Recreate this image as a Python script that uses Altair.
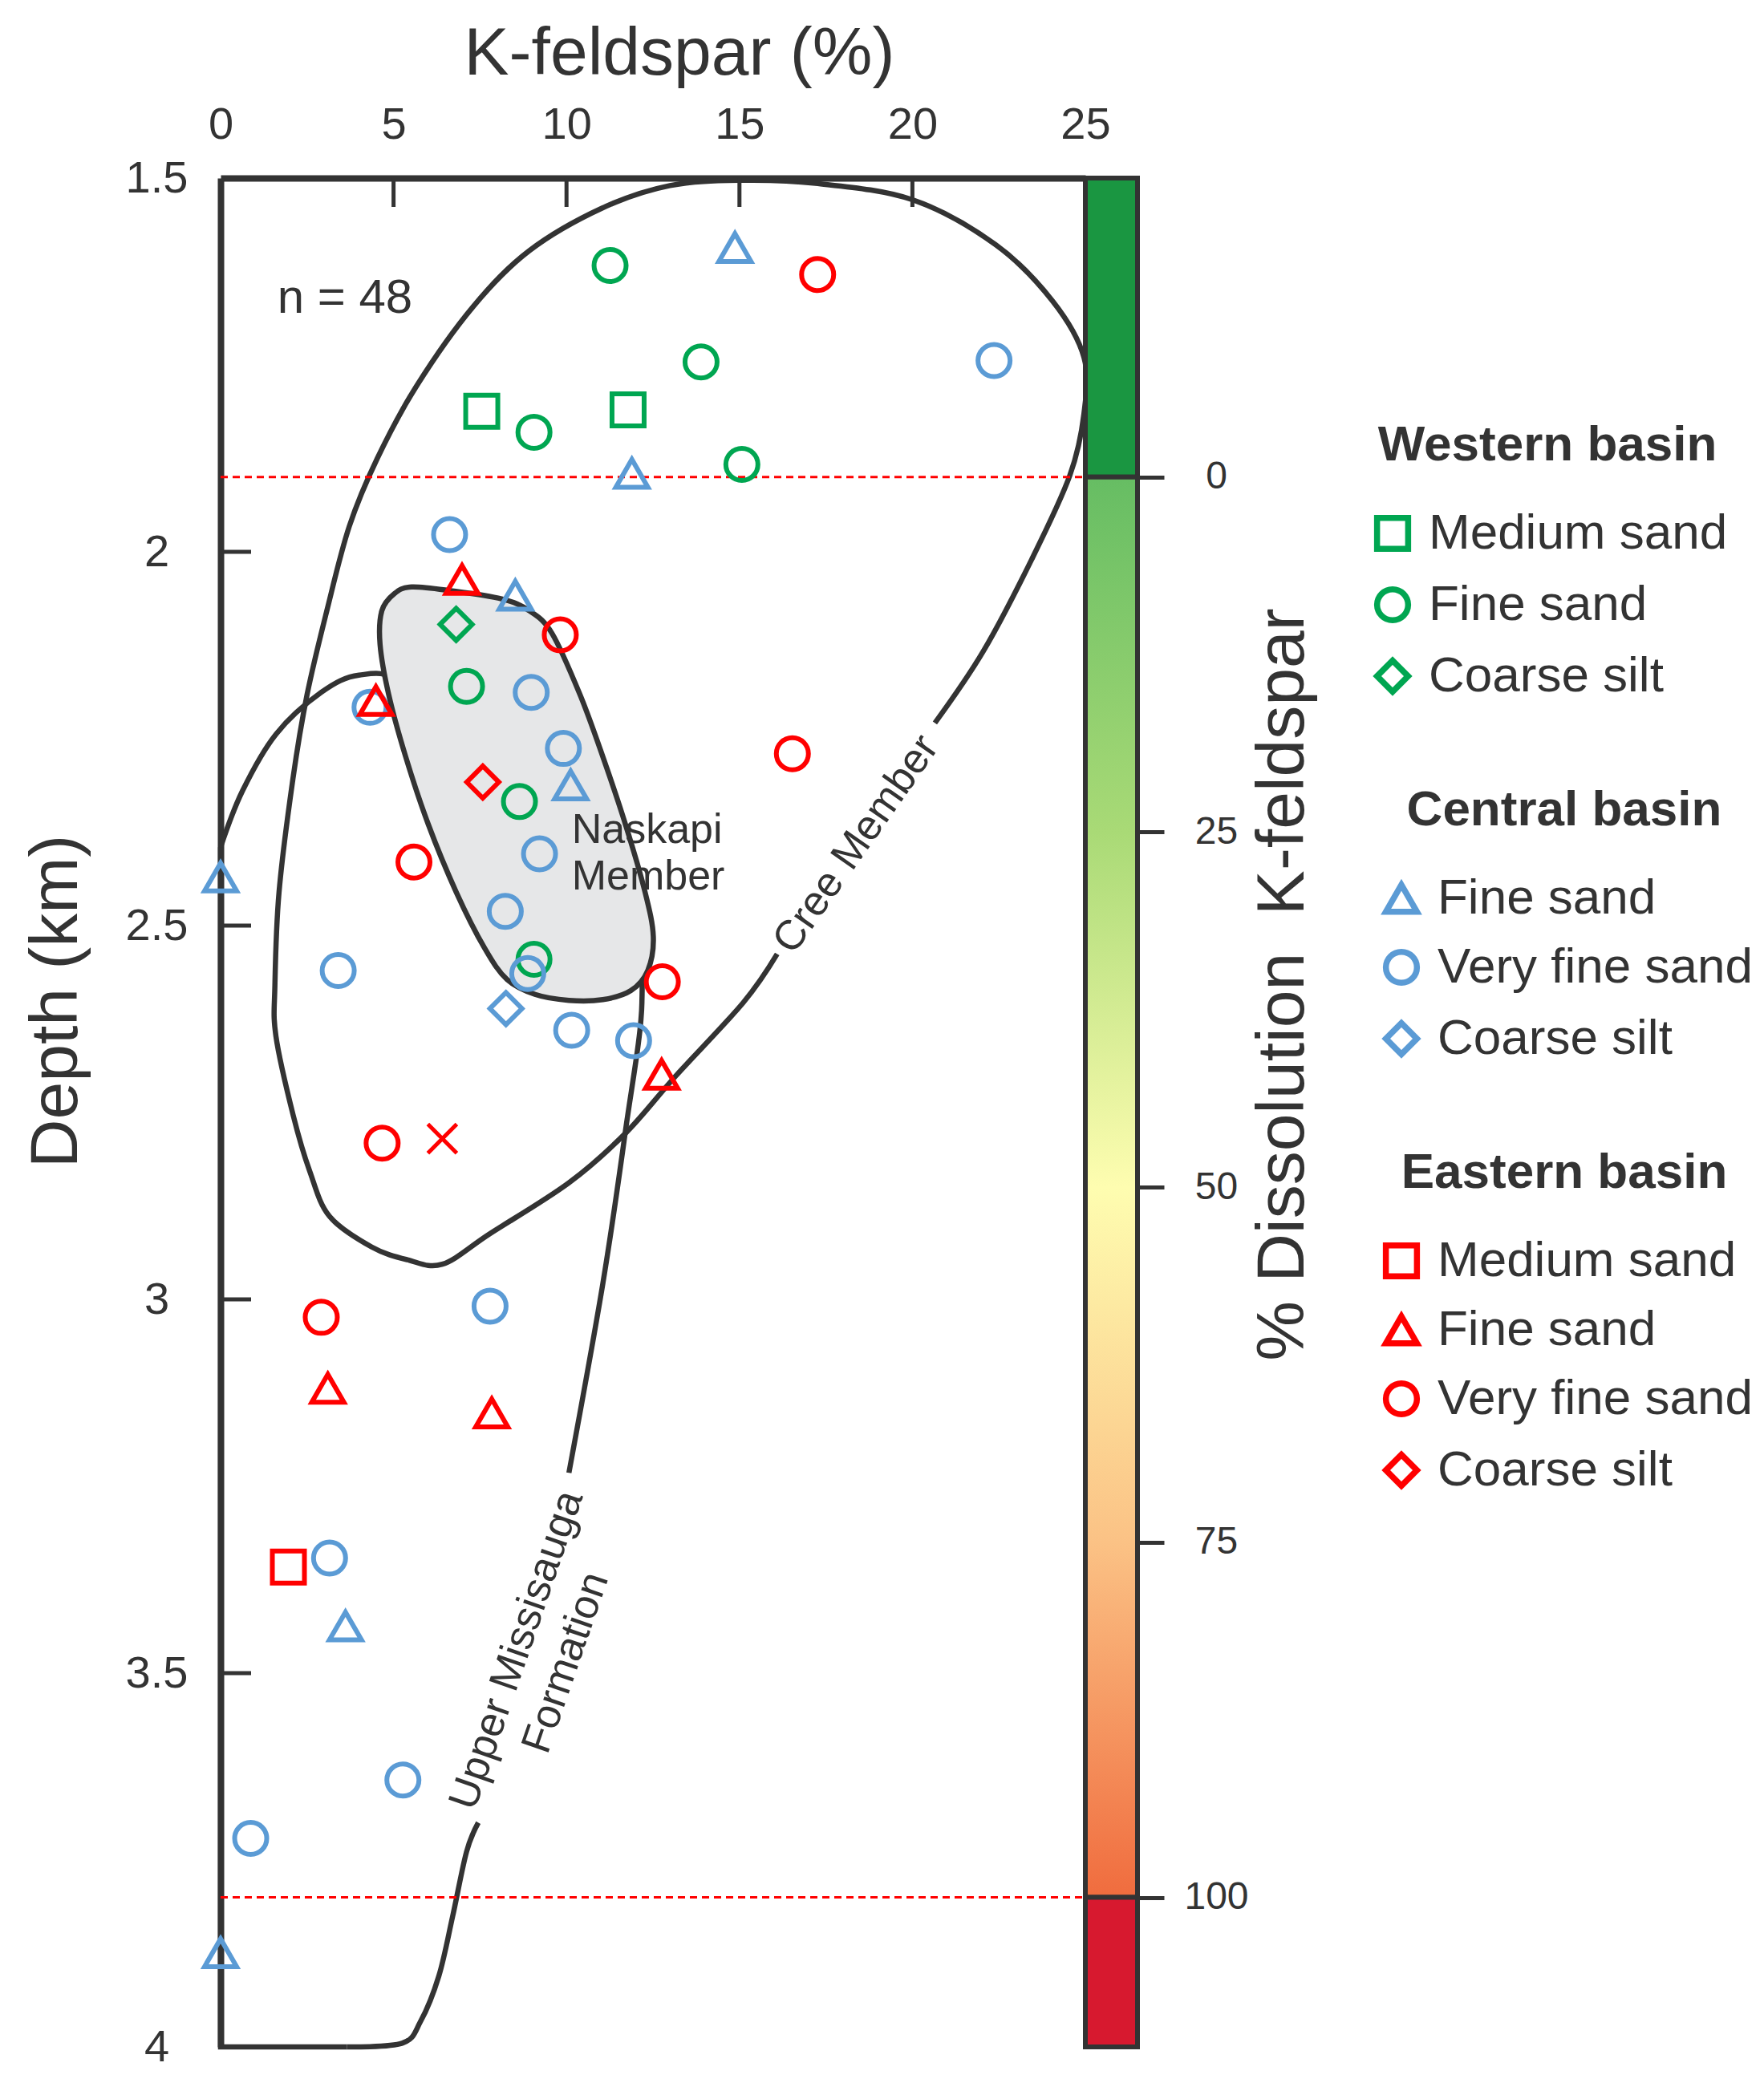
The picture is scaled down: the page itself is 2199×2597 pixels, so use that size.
import altair as alt
import pandas as pd

FONT = "Liberation Sans"
INK = "#333333"
GREEN = "#00a651"
BLUE = "#5b9bd5"
RED = "#ff0000"
GREY_FILL = "#e6e7e8"

W, H, CBW = 1078, 2330, 65

X_DOMAIN = [0, 25]
DEPTH_DOMAIN = [1.5, 4.0]
X_TICKS = [0, 5, 10, 15, 20, 25]
Y_TICKS = [1.5, 2.0, 2.5, 3.0, 3.5, 4.0]
X_INNER_TICKS = [5, 10, 15, 20]
Y_INNER_TICKS = [2.0, 2.5, 3.0, 3.5]

DISS_DEPTHS = [1.9, 3.8]          # depths of 0 % and 100 % dissolution
DISS_TICKS = [0, 25, 50, 75, 100]

# ---------------- samples ----------------
W_TYPES = ["Medium sand", "Fine sand", "Coarse silt"]
W_SHAPES = ["square", "circle", "diamond"]
W_X = [7.55, 11.78, 11.26, 13.89, 9.06, 15.07, 7.11, 8.64, 9.06, 6.81]
W_D = [1.812, 1.810, 1.617, 1.746, 1.840, 1.883, 2.180, 2.334, 2.545, 2.097]
W_T = ["Medium sand", "Medium sand", "Fine sand", "Fine sand", "Fine sand",
       "Fine sand", "Fine sand", "Fine sand", "Fine sand", "Coarse silt"]

C_TYPES = ["Fine sand", "Very fine sand", "Coarse silt"]
C_SHAPES = ["triangle-up", "circle", "diamond"]
C_X = [14.87, 11.89, 8.52, 10.12, 0.0, 3.61, 0.0,
       22.36, 6.62, 8.98, 4.32, 9.91, 9.22, 8.23, 3.40, 8.88, 10.15, 11.94, 7.79, 3.15, 5.27, 0.87,
       8.25]
C_D = [1.593, 1.895, 2.058, 2.312, 2.435, 3.437, 3.874,
       1.744, 1.977, 2.188, 2.208, 2.263, 2.404, 2.481, 2.560, 2.564, 2.640, 2.654, 3.009, 3.346, 3.643, 3.721,
       2.611]
C_T = ["Fine sand"] * 7 + ["Very fine sand"] * 15 + ["Coarse silt"]

E_TYPES = ["Medium sand", "Fine sand", "Very fine sand", "Coarse silt"]
E_SHAPES = ["square", "triangle-up", "circle", "diamond"]
E_X = [1.96,
       6.98, 4.49, 12.75, 3.10, 7.84,
       17.26, 9.82, 16.53, 5.59, 12.77, 4.67, 2.91,
       7.58]
E_D = [3.358,
       2.037, 2.199, 2.699, 3.119, 3.152,
       1.629, 2.111, 2.270, 2.415, 2.575, 2.791, 3.024,
       2.308]
E_T = ["Medium sand"] + ["Fine sand"] * 5 + ["Very fine sand"] * 7 + ["Coarse silt"]
E_CROSS_X = [6.41]
E_CROSS_D = [2.785]

# ---------------- outlines ----------------
CREE_X = [16.09, 15.11, 13.16, 11.70, 10.07, 7.79, 6.41, 5.40, 4.37, 3.15, 2.58, 2.10, 1.60, 1.57,
          1.69, 2.09, 2.50, 3.07, 3.72, 4.53, 5.68, 7.30, 8.93, 11.04, 12.99, 15.03, 17.20, 20.00,
          22.40, 24.06, 24.96, 24.96, 24.55, 23.45, 22.05, 20.65]
CREE_D = [2.538, 2.603, 2.701, 2.778, 2.844, 2.912, 2.953, 2.947, 2.930, 2.889, 2.829, 2.754, 2.648, 2.580,
          2.455, 2.304, 2.191, 2.079, 1.966, 1.875, 1.777, 1.672, 1.597, 1.540, 1.510, 1.503, 1.507, 1.529,
          1.589, 1.665, 1.740, 1.815, 1.898, 2.010, 2.133, 2.229]

MISS_UP_X = [10.07, 11.05, 11.70, 12.18, 11.80, 9.50, 7.00, 5.20, 4.00, 2.91, 1.60, 0.63, 0.0]
MISS_UP_D = [3.232, 2.979, 2.776, 2.603, 2.520, 2.400, 2.270, 2.175, 2.165, 2.188, 2.244, 2.320, 2.395]
MISS_EDGE_X = [0.0, 0.0, 3.65]
MISS_EDGE_D = [2.395, 4.0, 4.0]
MISS_LOW_X = [3.65, 5.25, 5.78, 6.31, 6.71, 7.11, 7.45]
MISS_LOW_D = [4.0, 3.995, 3.966, 3.905, 3.825, 3.739, 3.700]

NASK_X = [5.52, 6.65, 8.12, 8.93, 9.58, 10.39, 11.05, 11.70, 12.27, 12.51, 12.35, 11.86,
          11.05, 10.07, 9.09, 8.28, 7.63, 6.81, 6.00, 5.35, 4.86, 4.61, 4.66, 5.02]
NASK_D = [2.047, 2.052, 2.063, 2.079, 2.109, 2.191, 2.274, 2.364, 2.455, 2.515, 2.560, 2.587,
          2.599, 2.600, 2.592, 2.572, 2.530, 2.455, 2.364, 2.274, 2.191, 2.124, 2.079, 2.056]

# ---------------- annotations ----------------
LEFT_TEXT = ["n = 48", "Naskapi", "Member"]
LEFT_X = [1.64, 10.15, 10.15]
LEFT_D = [1.661, 2.372, 2.435]
LEFT_FS = [60, 52, 52]

ROT_TEXT = ["Cree Member", "Upper Missisauga", "Formation"]
ROT_X = [18.37, 8.56, 9.98]
ROT_D = [2.391, 3.469, 3.486]
ROT_ANGLE = [305, 289, 289]
ROT_FS = [52, 52, 52]

# ---------------- encodings ----------------
X_AXIS = alt.Axis(orient="top", values=X_TICKS, ticks=False, grid=False, domain=True,
                  domainColor=INK, domainWidth=8, labelFont=FONT, labelFontSize=56,
                  labelColor=INK, labelPadding=38, labelFlush=False, labelOverlap=False,
                  format="d", title="K-feldspar (%)", titleFont=FONT, titleFontSize=84,
                  titleFontWeight="normal", titleColor=INK, titleX=(W + CBW) / 2, titleY=-130,
                  titleAlign="center", titleBaseline="alphabetic")
Y_AXIS = alt.Axis(orient="left", values=Y_TICKS, ticks=False, grid=False, domain=True,
                  domainColor=INK, domainWidth=8, labelFont=FONT, labelFontSize=56,
                  labelColor=INK, labelAlign="center", labelBaseline="middle", labelPadding=80,
                  labelFlush=False, labelOverlap=False, format="~g", title="Depth (km)",
                  titleFont=FONT, titleFontSize=84, titleFontWeight="normal", titleColor=INK,
                  titleAngle=270, titleX=-205, titleY=1026, titleAlign="center",
                  titleBaseline="middle")
X_ENC = alt.X("x:Q", scale=alt.Scale(domain=X_DOMAIN, nice=False, zero=False), axis=X_AXIS)
Y_ENC = alt.Y("depth:Q", scale=alt.Scale(domain=DEPTH_DOMAIN, reverse=True, nice=False, zero=False),
              axis=Y_AXIS)


def path_df(name, xs, ds):
    return pd.DataFrame({"path": name, "order": list(range(len(xs))), "x": xs, "depth": ds})


curve_df = pd.concat([path_df("cree", CREE_X, CREE_D),
                      path_df("miss_up", MISS_UP_X, MISS_UP_D),
                      path_df("miss_low", MISS_LOW_X, MISS_LOW_D)])
straight_df = path_df("miss_edge", MISS_EDGE_X, MISS_EDGE_D)
nask_df = path_df("naskapi", NASK_X, NASK_D)

LINE_W = 6.5
curves = alt.Chart(curve_df).mark_line(interpolate="cardinal", color=INK, strokeWidth=LINE_W).encode(
    X_ENC, Y_ENC, detail="path:N", order="order:Q")
straight = alt.Chart(straight_df).mark_line(interpolate="linear", color=INK, strokeWidth=LINE_W).encode(
    X_ENC, Y_ENC, order="order:Q")
naskapi = alt.Chart(nask_df).mark_line(interpolate="cardinal-closed", color=INK, fill=GREY_FILL,
                                       strokeWidth=LINE_W).encode(X_ENC, Y_ENC, order="order:Q")

x_ticks = alt.Chart(pd.DataFrame({"x": X_INNER_TICKS})).mark_rule(color=INK, strokeWidth=5).encode(
    X_ENC, y=alt.value(0), y2=alt.value(36))
y_ticks = alt.Chart(pd.DataFrame({"depth": Y_INNER_TICKS})).mark_rule(color=INK, strokeWidth=5).encode(
    Y_ENC, x=alt.value(0), x2=alt.value(38))
dashed = alt.Chart(pd.DataFrame({"depth": DISS_DEPTHS})).mark_rule(
    color=RED, strokeWidth=3, strokeDash=[9, 6]).encode(Y_ENC, x=alt.value(0), x2=alt.value(W))


def legend_def(title, color, lx, ly):
    return alt.Legend(title=title, orient="none", legendX=lx, legendY=ly, padding=0,
                      titleFont=FONT, titleFontSize=62, titleFontWeight="bold", titleColor=INK,
                      titleAnchor="middle", titlePadding=47, titleLimit=0,
                      labelFont=FONT, labelFontSize=62, labelColor=INK, labelOffset=14, labelLimit=0,
                      symbolStrokeColor=color, symbolStrokeWidth=7.5, symbolSize=1500,
                      symbolFillColor="transparent", rowPadding=19)


def points(xs, ds, ts, types, shapes, color, title, lx, ly):
    df = pd.DataFrame({"x": xs, "depth": ds, "type": ts})
    return alt.Chart(df).mark_point(filled=False, color=color, strokeWidth=6, size=1600,
                                    opacity=1).encode(
        X_ENC, Y_ENC,
        shape=alt.Shape("type:N", scale=alt.Scale(domain=types, range=shapes),
                        legend=legend_def(title, color, lx, ly)))


west = points(W_X, W_D, W_T, W_TYPES, W_SHAPES, GREEN, "Western basin", 1430, 303)
central = points(C_X, C_D, C_T, C_TYPES, C_SHAPES, BLUE, "Central basin", 1441, 758)
east = points(E_X, E_D, E_T, E_TYPES, E_SHAPES, RED, "Eastern basin", 1441, 1210)
cross = alt.Chart(pd.DataFrame({"x": E_CROSS_X, "depth": E_CROSS_D})).mark_point(
    shape="M-1,-1L1,1M1,-1L-1,1", filled=False, color=RED, strokeWidth=5, size=1300,
    opacity=1).encode(X_ENC, Y_ENC)

left_text = alt.Chart(pd.DataFrame({"x": LEFT_X, "depth": LEFT_D, "text": LEFT_TEXT,
                                    "fs": LEFT_FS})).mark_text(
    align="left", baseline="middle", font=FONT, color=INK).encode(
    X_ENC, Y_ENC, text="text:N", size=alt.Size("fs:Q", scale=None))
rot_text = alt.Chart(pd.DataFrame({"x": ROT_X, "depth": ROT_D, "text": ROT_TEXT,
                                   "angle": ROT_ANGLE, "fs": ROT_FS})).mark_text(
    align="center", baseline="middle", font=FONT, color=INK).encode(
    X_ENC, Y_ENC, text="text:N", angle=alt.Angle("angle:Q", scale=None),
    size=alt.Size("fs:Q", scale=None))

inner = alt.layer(curves, straight, naskapi, dashed, x_ticks, y_ticks,
                  west, central, east, cross, left_text, rot_text).resolve_scale(shape="independent")

# ---------------- colour bar ----------------
span = DISS_DEPTHS[1] - DISS_DEPTHS[0]
cb_lo = (DEPTH_DOMAIN[0] - DISS_DEPTHS[0]) / span * 100
cb_hi = (DEPTH_DOMAIN[1] - DISS_DEPTHS[0]) / span * 100
cb_df = pd.DataFrame({"lo": [cb_lo, 0, 100], "hi": [0, 100, cb_hi],
                      "part": ["above", "range", "below"]})

CB_AXIS = alt.Axis(orient="right", offset=CBW, values=DISS_TICKS, tickSize=33, tickWidth=5,
                   tickColor=INK, domain=False, grid=False, labelFont=FONT, labelFontSize=48,
                   labelColor=INK, labelAlign="center", labelBaseline="middle", labelPadding=65,
                   labelFlush=False, labelOverlap=False,
                   title="% Dissolution\u00a0 K-feldspar", titleFont=FONT, titleFontSize=84,
                   titleFontWeight="normal", titleColor=INK, titleAngle=270, titleX=181,
                   titleY=1005, titleAlign="center", titleBaseline="middle")
CB_Y = alt.Y("lo:Q", scale=alt.Scale(domain=[cb_lo, cb_hi], reverse=True, nice=False, zero=False),
             axis=CB_AXIS)
CB_Y2 = alt.Y2("hi:Q")

grad = alt.Gradient(gradient="linear", x1=0, x2=0, y1=0, y2=1, stops=[
    alt.GradientStop(color="#66bd63", offset=0),
    alt.GradientStop(color="#a9da76", offset=0.25),
    alt.GradientStop(color="#fefdb0", offset=0.5),
    alt.GradientStop(color="#fbc285", offset=0.75),
    alt.GradientStop(color="#f06c3e", offset=1),
])


def cb_part(part, fill):
    return alt.Chart(cb_df).transform_filter(alt.datum.part == part).mark_rect(
        fill=fill, stroke=INK, strokeWidth=6).encode(
        x=alt.value(W), x2=alt.value(W + CBW), y=CB_Y, y2=CB_Y2)


cbar = alt.layer(cb_part("above", "#1a9641"), cb_part("range", grad), cb_part("below", "#d7192f"))

chart = alt.layer(inner, cbar).resolve_scale(y="independent", shape="independent").properties(
    width=W, height=H, padding={"left": 20, "top": 17, "right": 5, "bottom": 5}
).configure(font=FONT, background="white").configure_view(stroke=None)

chart.save("out.html", embed_options={"renderer": "svg", "actions": False})
